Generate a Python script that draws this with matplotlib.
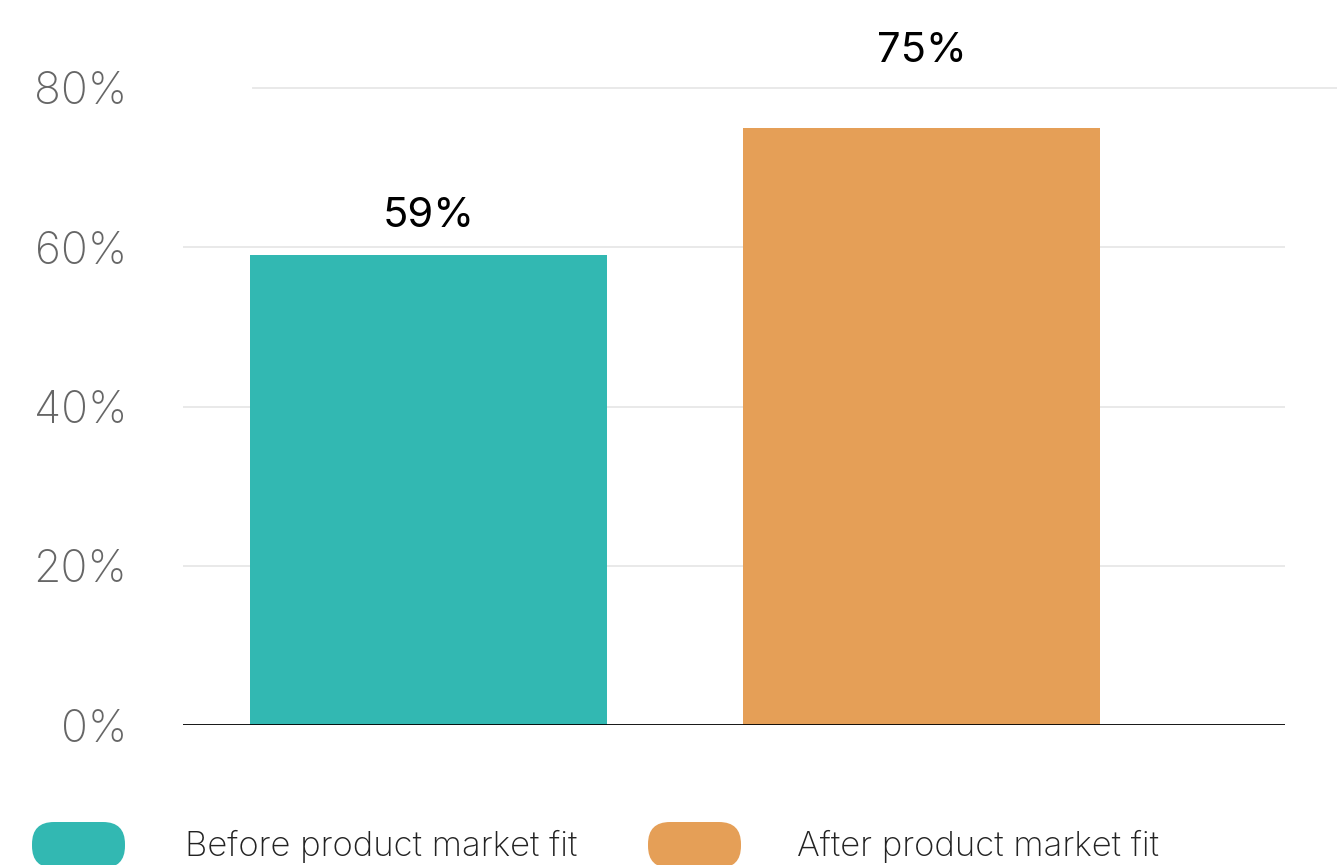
import matplotlib
matplotlib.use("Agg")
import matplotlib.pyplot as plt
from matplotlib.patches import FancyBboxPatch

# Share of respondents, before vs after product market fit
categories = ["Before product market fit", "After product market fit"]
values = [59, 75]
value_labels = ["59%", "75%"]
tick_values = [0, 20, 40, 60, 80]
tick_labels = ["0%", "20%", "40%", "60%", "80%"]

colors = ["#32B8B2", "#E59F57"]
label_offsets = [4.9, 9.6]
FONT = "Inter"

W, H = 1337, 865
fig = plt.figure(figsize=(W / 100, H / 100), dpi=100)
fig.patch.set_facecolor("white")

left, right = 183 / W, 1285 / W
bottom, top = 1 - 725 / H, 1 - 88 / H
ax = fig.add_axes([left, bottom, right - left, top - bottom])

x = list(range(len(categories)))
ax.bar(x, values, width=0.7234, color=colors, zorder=2)
ax.set_xlim(-0.4975, 1.7356)
ax.set_ylim(0, 80)

# gridlines
for t in tick_values[1:-1]:
    ax.axhline(t, color="#e9e9e9", lw=1.4, zorder=1)
ax.plot([-0.3556, 1.841], [80, 80], color="#e9e9e9", lw=1.4, zorder=1, clip_on=False)
ax.axhline(0, color="black", lw=2.0, zorder=3)

for s in ax.spines.values():
    s.set_visible(False)
ax.set_xticks([])
ax.set_yticks(tick_values)
ax.set_yticklabels(tick_labels, fontsize=32, color="#666666", family=FONT, weight="light")
ax.tick_params(axis="y", length=0, pad=40)

for xi, v, lab, off in zip(x, values, value_labels, label_offsets):
    ax.text(xi, v + off, lab, ha="center", va="center", fontsize=30,
            color="black", family=FONT, clip_on=False)

# legend drawn on a pixel-space overlay
lax = fig.add_axes([0, 0, 1, 1], zorder=-1)
lax.set_xlim(0, W)
lax.set_ylim(H, 0)
lax.axis("off")
legend_items = [(32, 185), (648, 797)]
for (px, tx), c, name in zip(legend_items, colors, categories):
    pill = FancyBboxPatch((px, 822), 93, 46,
                          boxstyle="round,pad=0,rounding_size=22",
                          facecolor=c, edgecolor="none")
    lax.add_patch(pill)
    lax.text(tx, 846, name, ha="left", va="center", fontsize=25,
             color="#222222", family=FONT, weight="light")

fig.savefig("out.png", dpi=100)
